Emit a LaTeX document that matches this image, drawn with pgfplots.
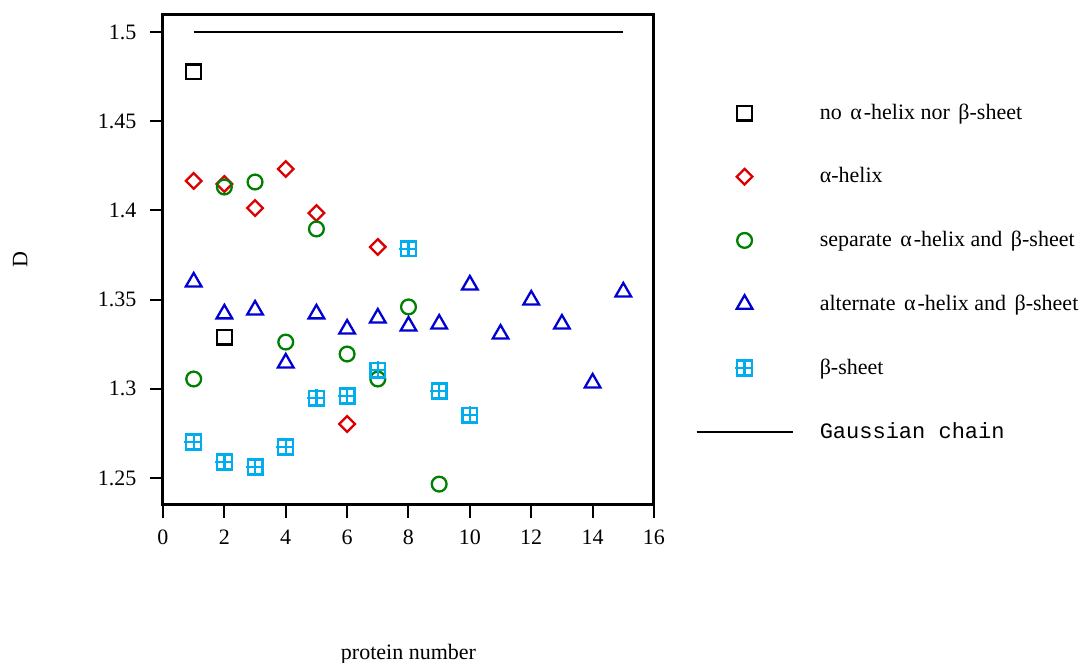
\documentclass[border=0pt]{standalone}
\usepackage{fontspec}
\setmainfont{Liberation Serif}
\setmonofont{Liberation Mono}
\usepackage{pgfplots}
\pgfplotsset{compat=1.18}
\definecolor{cred}{RGB}{220,0,0}
\definecolor{cgreen}{RGB}{0,128,0}
\definecolor{cblue}{RGB}{0,0,210}
\definecolor{ccyan}{RGB}{0,174,239}
\pgfdeclareplotmark{boxplus}{%
  \pgfpathrectangle{\pgfqpoint{-\pgfplotmarksize}{-\pgfplotmarksize}}{\pgfqpoint{2\pgfplotmarksize}{2\pgfplotmarksize}}%
  \pgfpathmoveto{\pgfqpoint{-1.25\pgfplotmarksize}{0pt}}\pgfpathlineto{\pgfqpoint{\pgfplotmarksize}{0pt}}%
  \pgfpathmoveto{\pgfqpoint{0pt}{-\pgfplotmarksize}}\pgfpathlineto{\pgfqpoint{0pt}{1.25\pgfplotmarksize}}%
  \pgfusepathqstroke}
\begin{document}
\fontsize{11}{13}\selectfont
\begin{tikzpicture}[x=0.5pt,y=0.5pt]
\useasboundingbox (-163,-158) rectangle (926,505);
\begin{axis}[
  at={(0,0)}, anchor=south west,
  scale only axis, width=245.5pt, height=245pt,
  xmin=0, xmax=16, ymin=1.2349, ymax=1.5095,
  xtick={0,2,...,16}, ytick={1.25,1.3,1.35,1.4,1.45,1.5},
  yticklabels={1.25,1.3,1.35,1.4,1.45,1.5},
  xtick pos=bottom, ytick pos=left,
  axis line style={line width=1.5pt},
  tick style={line width=1pt, black},
  tick align=outside, major tick length=6.5pt,
  /pgf/number format/assume math mode=true,
  ticklabel style={font=\fontsize{11}{13}\selectfont},
  xticklabel style={yshift=-2pt},
  yticklabel style={xshift=-3pt},
  every axis plot/.append style={line width=1.15pt},
  xlabel={protein number}, ylabel={D},
  xlabel style={at={(axis description cs:0.5,-0.304)}, anchor=center},
  ylabel style={at={(axis description cs:-0.291,0.5)}, anchor=center},
  legend cell align=left,
  legend style={at={(axis description cs:1.0835,0.828)}, anchor=north west, draw=none, fill=none,
    row sep=18.5pt, inner sep=0pt, font=\fontsize{11}{13}\selectfont,
    /tikz/every odd column/.append style={column sep=11pt}},
  legend image code/.code={\draw[mark repeat=2,mark phase=2,#1] plot coordinates {(0pt,0pt) (24pt,0pt) (48pt,0pt)};},
]
\addplot[only marks, black, mark=square, mark size=3.7pt] coordinates {(1,1.4776) (2,1.329)};
\addlegendentry{no \hspace{1.5pt}α\hspace{1pt}-helix nor \hspace{1.5pt}β-sheet}
\addplot[only marks, cred, mark=square, mark size=2.75pt, mark options={rotate=45}] coordinates {
(1,1.4165) (2,1.4148) (3,1.4013) (4,1.4232) (5,1.3985) (6,1.2803) (7,1.3795)};
\addlegendentry{α-helix}
\addplot[only marks, cgreen, mark=o, mark size=3.7pt] coordinates {
(1,1.3055) (2,1.4131) (3,1.4159) (4,1.3262) (5,1.3896) (6,1.3195) (7,1.3055) (8,1.3459) (9,1.2466)};
\addlegendentry{separate \hspace{1.5pt}α\hspace{1pt}-helix and \hspace{1.5pt}β-sheet}
\addplot[only marks, cblue, mark=triangle, mark size=4.5pt] coordinates {
(1,1.3599) (2,1.342) (3,1.3442) (4,1.3145) (5,1.342) (6,1.3335) (7,1.3397) (8,1.3352) (9,1.3363) (10,1.3582) (11,1.3307) (12,1.3498) (13,1.3363) (14,1.3033) (15,1.3543)};
\addlegendentry{alternate \hspace{1.5pt}α\hspace{1pt}-helix and \hspace{1.5pt}β-sheet}
\addplot[only marks, ccyan, mark=boxplus, mark size=3.7pt] coordinates {
(1,1.2702) (2,1.259) (3,1.2562) (4,1.2674) (5,1.2948) (6,1.296) (7,1.3105) (8,1.3784) (9,1.2988) (10,1.2853)};
\addlegendentry{β-sheet}
\addplot[black, line width=1.2pt, no marks] coordinates {(1,1.5) (15,1.5)};
\addlegendentry{\texttt{Gaussian chain}}
\end{axis}
\end{tikzpicture}
\end{document}
